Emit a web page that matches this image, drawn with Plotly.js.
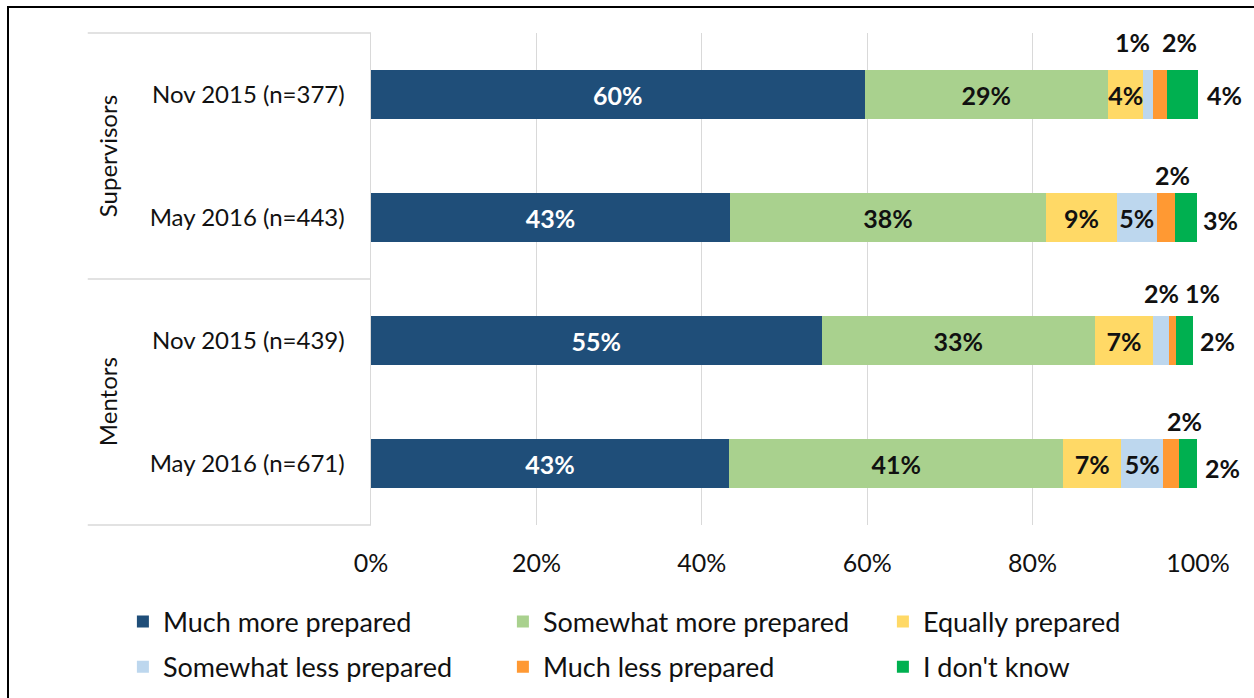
<!DOCTYPE html>
<html>
<head>
<meta charset="utf-8">
<script src="https://cdn.plot.ly/plotly-3.0.1.min.js"></script>
<style>
html,body{margin:0;padding:0;background:#fff;}
#wrap{position:relative;width:1254px;height:698px;overflow:hidden;}
#chart{position:absolute;left:0;top:0;width:1254px;height:698px;}
#frame{position:absolute;left:7px;top:6px;width:1300px;height:800px;border-left:2px solid #000;border-top:2px solid #000;pointer-events:none;}
</style>
</head>
<body>
<div id="wrap"><div id="chart"></div><div id="frame"></div></div>
<script>
// ---- data ----
const categories = ['Nov 2015 (n=377)', 'May 2016 (n=443)', 'Nov 2015 (n=439)', 'May 2016 (n=671)'];
const groups = ['Supervisors', 'Mentors'];
const seriesNames = ['Much more prepared', 'Somewhat more prepared', 'Equally prepared',
                     'Somewhat less prepared', 'Much less prepared', "I don't know"];
const muchMore     = [59.7, 43.4, 54.5, 43.3];
const somewhatMore = [29.4, 38.2, 33.0, 40.4];
const equally      = [4.3, 8.6, 7.1, 7.0];
const somewhatLess = [1.1, 4.8, 1.9, 5.1];
const muchLess     = [1.8, 2.2, 0.85, 1.9];
const dontKnow     = [3.7, 2.7, 2.1, 2.2];
const muchMoreLbl     = ['60%', '43%', '55%', '43%'];
const somewhatMoreLbl = ['29%', '38%', '33%', '41%'];
const equallyLbl      = ['4%', '9%', '7%', '7%'];
const somewhatLessLbl = ['1%', '5%', '2%', '5%'];
const muchLessLbl     = ['2%', '2%', '1%', '2%'];
const dontKnowLbl     = ['4%', '3%', '2%', '2%'];
const xTicks = [0, 20, 40, 60, 80, 100];
const xTickLabels = ['0%', '20%', '40%', '60%', '80%', '100%'];

// ---- style ----
const colors = ['#1F4E79', '#A9D18E', '#FFD966', '#BDD7EE', '#FF9933', '#00B050'];
const FONT = 'Lato, "Open Sans", sans-serif';
const LBL = 25;
// which "somewhat less" labels sit inside the bar (others go above)
const slessInside = [false, true, false, true];
// offsets (pixels) for labels drawn outside the bars
const slessShift = [[-15, -53], null, [0, -48], null];
const mlessShift = [[20, -53], [7, -43], [30, -48], [13, -43]];
const dkShift    = [[7, 0], [4, 2], [5, 0], [6, 4]];

const values = [muchMore, somewhatMore, equally, somewhatLess, muchLess, dontKnow];
const insideLabels = [
  muchMoreLbl, somewhatMoreLbl, equallyLbl,
  somewhatLessLbl.map((t, i) => slessInside[i] ? t : ''),
  muchLess.map(() => ''), dontKnow.map(() => '')
];

const traces = values.map((v, k) => ({
  type: 'bar', orientation: 'h', name: seriesNames[k],
  x: v, y: categories,
  legend: k < 3 ? 'legend' : 'legend2',
  marker: {color: colors[k], line: {width: 0}},
  text: insideLabels[k], textposition: 'inside', insidetextanchor: 'middle',
  constraintext: 'none', textangle: 0,
  textfont: {family: FONT, size: LBL, color: k === 0 ? '#ffffff' : '#111111', weight: 'bold'},
  hoverinfo: 'name+x'
}));

// cumulative positions
const cum = categories.map((c, i) => {
  let s = 0; const out = [];
  values.forEach(v => { out.push([s, s + v[i]]); s += v[i]; });
  return out;
});

const annotations = [];
const lblFont = {family: FONT, size: LBL, color: '#111111', weight: 'bold'};
categories.forEach((c, i) => {
  if (!slessInside[i]) {
    const [a, b] = cum[i][3];
    annotations.push({x: (a + b) / 2, y: c, xref: 'x', yref: 'y', text: somewhatLessLbl[i],
      showarrow: false, font: lblFont, xshift: slessShift[i][0], yshift: -slessShift[i][1]});
  }
  {
    const [a, b] = cum[i][4];
    annotations.push({x: (a + b) / 2, y: c, xref: 'x', yref: 'y', text: muchLessLbl[i],
      showarrow: false, font: lblFont, xshift: mlessShift[i][0], yshift: -mlessShift[i][1]});
  }
  {
    const [a, b] = cum[i][5];
    annotations.push({x: b, y: c, xref: 'x', yref: 'y', text: dontKnowLbl[i], xanchor: 'left',
      showarrow: false, font: lblFont, xshift: dkShift[i][0], yshift: -dkShift[i][1]});
  }
});
// group labels
groups.forEach((g, j) => {
  annotations.push({x: -0.319, y: j === 0 ? 0.75 : 0.25, xref: 'paper', yref: 'paper', text: g,
    xanchor: 'center', yanchor: 'middle',
    textangle: -90, showarrow: false, font: {family: FONT, size: 24, color: '#111111'}});
});

const divider = {color: '#d9d9d9', width: 1.5};
const shapes = [1, 0.5, 0].map(y => ({type: 'line', xref: 'paper', yref: 'paper',
  x0: -0.3425, x1: 0, y0: y, y1: y, line: divider}));

const legendBase = {orientation: 'h', x: -0.3, xanchor: 'left', yanchor: 'middle',
  entrywidth: 335, entrywidthmode: 'pixels', traceorder: 'normal',
  bgcolor: 'rgba(0,0,0,0)', borderwidth: 0,
  font: {family: FONT, size: 27, color: '#111111'}, itemclick: false, itemdoubleclick: false};

const layout = {
  width: 1254, height: 698,
  margin: {l: 371, r: 56, t: 33, b: 173, autoexpand: false},
  paper_bgcolor: '#ffffff', plot_bgcolor: '#ffffff',
  barmode: 'stack', bargap: 0.6,
  font: {family: FONT, color: '#111111'},
  xaxis: {range: [0, 100], tickvals: xTicks, ticktext: xTickLabels, showgrid: true,
    gridcolor: '#d9d9d9', gridwidth: 1, zeroline: false, showline: false,
    ticks: '', ticklabelstandoff: 21, tickfont: {family: FONT, size: 25, color: '#111111'},
    fixedrange: true},
  yaxis: {autorange: 'reversed', showline: true, linecolor: '#d9d9d9', linewidth: 1.5,
    ticks: '', ticklabelstandoff: 20, tickfont: {family: FONT, size: 24, color: '#111111'},
    showgrid: false, fixedrange: true},
  showlegend: true,
  legend: Object.assign({}, legendBase, {y: -0.197}),
  legend2: Object.assign({}, legendBase, {y: -0.289}),
  annotations: annotations,
  shapes: shapes
};

Plotly.newPlot('chart', traces, layout, {displayModeBar: false, staticPlot: true});
</script>
</body>
</html>
